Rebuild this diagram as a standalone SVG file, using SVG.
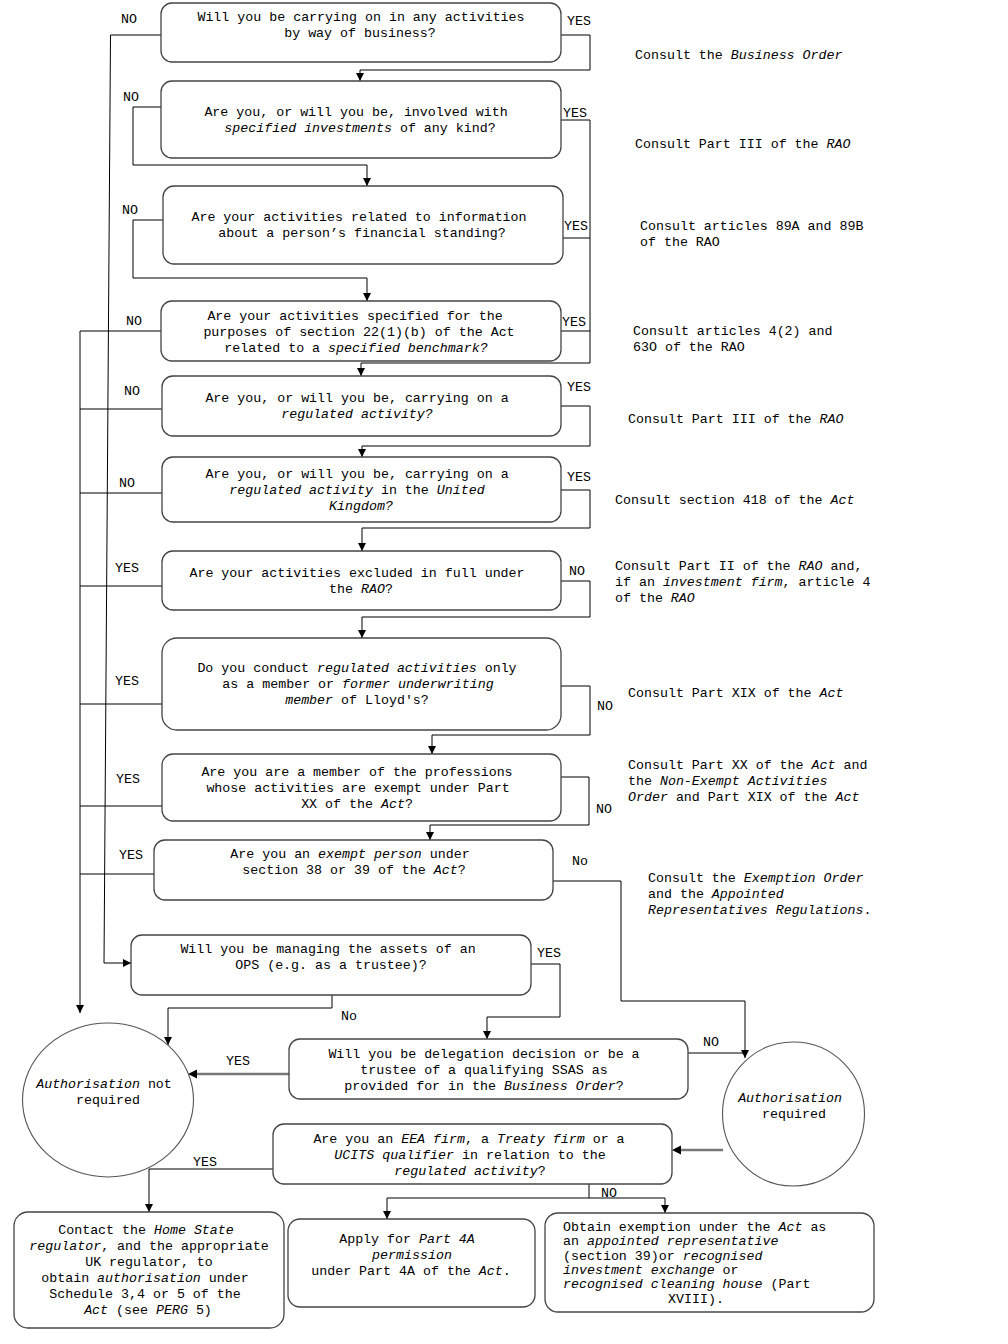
<svg xmlns="http://www.w3.org/2000/svg" width="1008" height="1344" viewBox="0 0 1008 1344">
<style>
text{font-family:"Liberation Mono","Courier New",monospace;font-size:13.3px;fill:#000}
.c{text-anchor:middle}
.i{font-style:italic}
.box{fill:#fff;stroke:#444;stroke-width:1.3}
.circ{fill:#fff;stroke:#555;stroke-width:1.1}
.ln{fill:none;stroke:#000;stroke-width:1}
.thk{fill:none;stroke:#777;stroke-width:2.6}
</style>
<defs>
<marker id="ah" viewBox="0 0 10 10" refX="10" refY="5" markerWidth="8" markerHeight="8" orient="auto" markerUnits="userSpaceOnUse"><path d="M0,0 L10,5 L0,10 z" fill="#000"/></marker>
</defs>
<rect width="1008" height="1344" fill="#fff"/>

<g id="connectors">
<path class="ln" d="M561,35 H590 V70 H360 V81" marker-end="url(#ah)"/>
<path class="ln" d="M161,35 H110.5 L104,963 H131" marker-end="url(#ah)"/>
<path class="ln" d="M161,107 H133 V165 H367 V186" marker-end="url(#ah)"/>
<path class="ln" d="M561,120 H590 V363 H361 V376" marker-end="url(#ah)"/>
<path class="ln" d="M563,238 H590"/>
<path class="ln" d="M163,220 H133 V278 H367 V301" marker-end="url(#ah)"/>
<path class="ln" d="M561,331 H590"/>
<path class="ln" d="M161,331 H80 V1013" marker-end="url(#ah)"/>
<path class="ln" d="M162,409 H80"/>
<path class="ln" d="M561,406 H590 V446 H362 V457" marker-end="url(#ah)"/>
<path class="ln" d="M162,493 H80"/>
<path class="ln" d="M561,490 H590 V528 H362 V551" marker-end="url(#ah)"/>
<path class="ln" d="M162,586 H80"/>
<path class="ln" d="M561,581 H590 V617 H362 V638" marker-end="url(#ah)"/>
<path class="ln" d="M162,704 H80"/>
<path class="ln" d="M561,686 H590 V735 H432 V754" marker-end="url(#ah)"/>
<path class="ln" d="M162,806 H80"/>
<path class="ln" d="M561,777 H589 V825 H430 V840" marker-end="url(#ah)"/>
<path class="ln" d="M154,874 H80"/>
<path class="ln" d="M553,881 H621 V1001 H745 V1058" marker-end="url(#ah)"/>
<path class="ln" d="M531,964 H560 V1017 H487 V1039" marker-end="url(#ah)"/>
<path class="ln" d="M332,995 V1008 H168 V1045" marker-end="url(#ah)"/>
<path class="thk" d="M289,1074 H194"/>
<path d="M188,1074 L197,1069.5 L197,1078.5 z" fill="#000"/>
<path class="ln" d="M688,1053 H745"/>
<path class="thk" d="M723,1150 H678"/>
<path d="M672,1150 L681,1145.5 L681,1154.5 z" fill="#000"/>
<path class="ln" d="M273,1169 H149 V1212" marker-end="url(#ah)"/>
<path class="ln" d="M589,1184 V1198 M387,1198 H665"/>
<path class="ln" d="M387,1198 V1219" marker-end="url(#ah)"/>
<path class="ln" d="M665,1198 V1213" marker-end="url(#ah)"/>
</g>

<g id="labels">
<text x="121" y="23">NO</text>
<text x="567" y="25">YES</text>
<text x="123" y="101">NO</text>
<text x="563" y="117">YES</text>
<text x="122" y="214">NO</text>
<text x="564" y="230">YES</text>
<text x="126" y="325">NO</text>
<text x="562" y="326">YES</text>
<text x="124" y="395">NO</text>
<text x="567" y="391">YES</text>
<text x="119" y="487">NO</text>
<text x="567" y="481">YES</text>
<text x="115" y="572">YES</text>
<text x="569" y="575">NO</text>
<text x="115" y="685">YES</text>
<text x="597" y="710">NO</text>
<text x="116" y="783">YES</text>
<text x="596" y="813">NO</text>
<text x="119" y="859">YES</text>
<text x="572" y="865">No</text>
<text x="537" y="957">YES</text>
<text x="341" y="1020">No</text>
<text x="226" y="1065">YES</text>
<text x="703" y="1046">NO</text>
<text x="193" y="1166">YES</text>
<text x="601" y="1197">NO</text>
</g>

<g id="q1">
<rect class="box" x="161" y="3" width="400" height="59" rx="11"/>
<text class="c" x="361" y="21">Will you be carrying on in any activities</text>
<text class="c" x="360" y="37">by way of business?</text>
</g>
<g id="q2">
<rect class="box" x="161" y="81" width="400" height="77" rx="11"/>
<text class="c" x="356" y="116">Are you, or will you be, involved with</text>
<text class="c" x="360" y="132"><tspan class="i">specified investments</tspan> of any kind?</text>
</g>
<g id="q3">
<rect class="box" x="163" y="186" width="400" height="78" rx="11"/>
<text class="c" x="359" y="221">Are your activities related to information</text>
<text class="c" x="362" y="237">about a person’s financial standing?</text>
</g>
<g id="q4">
<rect class="box" x="161" y="301" width="400" height="60" rx="11"/>
<text class="c" x="355" y="320">Are your activities specified for the</text>
<text class="c" x="359" y="336">purposes of section 22(1)(b) of the Act</text>
<text class="c" x="356" y="352">related to a <tspan class="i">specified benchmark?</tspan></text>
</g>
<g id="q5">
<rect class="box" x="162" y="376" width="399" height="60" rx="11"/>
<text class="c" x="357" y="402">Are you, or will you be, carrying on a</text>
<text class="c" x="357" y="418"><tspan class="i">regulated activity?</tspan></text>
</g>
<g id="q6">
<rect class="box" x="162" y="457" width="399" height="65" rx="11"/>
<text class="c" x="357" y="478">Are you, or will you be, carrying on a</text>
<text class="c" x="357" y="494"><tspan class="i">regulated activity</tspan> in the <tspan class="i">United</tspan></text>
<text class="c" x="361" y="510"><tspan class="i">Kingdom?</tspan></text>
</g>
<g id="q7">
<rect class="box" x="162" y="551" width="399" height="59" rx="11"/>
<text class="c" x="357" y="577">Are your activities excluded in full under</text>
<text class="c" x="361" y="593">the <tspan class="i">RAO</tspan>?</text>
</g>
<g id="q8">
<rect class="box" x="162" y="638" width="399" height="92" rx="15"/>
<text class="c" x="357" y="672">Do you conduct <tspan class="i">regulated activities</tspan> only</text>
<text class="c" x="358" y="688">as a member or <tspan class="i">former underwriting</tspan></text>
<text class="c" x="357" y="704"><tspan class="i">member</tspan> of Lloyd's?</text>
</g>
<g id="q9">
<rect class="box" x="162" y="754" width="399" height="67" rx="11"/>
<text class="c" x="357" y="776">Are you are a member of the professions</text>
<text class="c" x="358" y="792">whose activities are exempt under Part</text>
<text class="c" x="357" y="808">XX of the <tspan class="i">Act</tspan>?</text>
</g>
<g id="q10">
<rect class="box" x="154" y="840" width="399" height="60" rx="11"/>
<text class="c" x="350" y="858">Are you an <tspan class="i">exempt person</tspan> under</text>
<text class="c" x="354" y="874">section 38 or 39 of the <tspan class="i">Act</tspan>?</text>
</g>
<g id="q11">
<rect class="box" x="131" y="935" width="400" height="60" rx="11"/>
<text class="c" x="328" y="953">Will you be managing the assets of an</text>
<text class="c" x="331" y="969">OPS (e.g. as a trustee)?</text>
</g>
<g id="q12">
<rect class="box" x="289" y="1039" width="399" height="60" rx="11"/>
<text class="c" x="484" y="1058">Will you be delegation decision or be a</text>
<text class="c" x="484" y="1074">trustee of a qualifying SSAS as</text>
<text class="c" x="484" y="1090">provided for in the <tspan class="i">Business Order</tspan>?</text>
</g>
<g id="q13">
<rect class="box" x="273" y="1124" width="399" height="60" rx="11"/>
<text class="c" x="469" y="1143">Are you an <tspan class="i">EEA firm</tspan>, a <tspan class="i">Treaty firm</tspan> or a</text>
<text class="c" x="470" y="1159"><tspan class="i">UCITS qualifier</tspan> in relation to the</text>
<text class="c" x="470" y="1175"><tspan class="i">regulated activity</tspan>?</text>
</g>
<g id="notRequired">
<ellipse class="circ" cx="108" cy="1100" rx="85.5" ry="77"/>
<text class="c" x="104" y="1088"><tspan class="i">Authorisation</tspan> not</text>
<text class="c" x="108" y="1104">required</text>
</g>
<g id="required">
<ellipse class="circ" cx="793.5" cy="1114" rx="71" ry="72"/>
<text class="c" x="790" y="1102"><tspan class="i">Authorisation</tspan></text>
<text class="c" x="794" y="1118">required</text>
</g>
<g id="contact">
<rect class="box" x="14" y="1212" width="270" height="116" rx="14"/>
<text class="c" x="146" y="1234">Contact the <tspan class="i">Home State</tspan></text>
<text class="c" x="149" y="1250"><tspan class="i">regulator</tspan>, and the appropriate</text>
<text class="c" x="149" y="1266">UK regulator, to</text>
<text class="c" x="145" y="1282">obtain <tspan class="i">authorisation</tspan> under</text>
<text class="c" x="145" y="1298">Schedule 3,4 or 5 of the</text>
<text class="c" x="148" y="1314"><tspan class="i">Act</tspan> (see <tspan class="i">PERG</tspan> 5)</text>
</g>
<g id="apply">
<rect class="box" x="288" y="1219" width="247" height="88" rx="12"/>
<text class="c" x="407" y="1243">Apply for <tspan class="i">Part 4A</tspan></text>
<text class="c" x="412" y="1259"><tspan class="i">permission</tspan></text>
<text class="c" x="411" y="1275">under Part 4A of the <tspan class="i">Act</tspan>.</text>
</g>
<g id="obtain">
<rect class="box" x="545" y="1213" width="329" height="99" rx="13"/>
<text x="563" y="1231">Obtain exemption under the <tspan class="i">Act</tspan> as</text>
<text x="563" y="1245">an <tspan class="i">appointed representative</tspan></text>
<text x="563" y="1260">(section 39)or <tspan class="i">recognised</tspan></text>
<text x="563" y="1274"><tspan class="i">investment exchange</tspan> or</text>
<text x="563" y="1288"><tspan class="i">recognised cleaning house</tspan> (Part</text>
<text x="668" y="1303">XVIII).</text>
</g>

<g id="notes">
<text x="635" y="59">Consult the <tspan class="i">Business Order</tspan></text>
<text x="635" y="148">Consult Part III of the <tspan class="i">RAO</tspan></text>
<text x="640" y="230">Consult articles 89A and 89B</text>
<text x="640" y="246">of the RAO</text>
<text x="633" y="335">Consult articles 4(2) and</text>
<text x="633" y="351">63O of the RAO</text>
<text x="628" y="423">Consult Part III of the <tspan class="i">RAO</tspan></text>
<text x="615" y="504">Consult section 418 of the <tspan class="i">Act</tspan></text>
<text x="615" y="570">Consult Part II of the <tspan class="i">RAO</tspan> and,</text>
<text x="615" y="586">if an <tspan class="i">investment firm</tspan>, article 4</text>
<text x="615" y="602">of the <tspan class="i">RAO</tspan></text>
<text x="628" y="697">Consult Part XIX of the <tspan class="i">Act</tspan></text>
<text x="628" y="769">Consult Part XX of the <tspan class="i">Act</tspan> and</text>
<text x="628" y="785">the <tspan class="i">Non-Exempt Activities</tspan></text>
<text x="628" y="801"><tspan class="i">Order</tspan> and Part XIX of the <tspan class="i">Act</tspan></text>
<text x="648" y="882">Consult the <tspan class="i">Exemption Order</tspan></text>
<text x="648" y="898">and the <tspan class="i">Appointed</tspan></text>
<text x="648" y="914"><tspan class="i">Representatives Regulations</tspan>.</text>
</g>
</svg>
